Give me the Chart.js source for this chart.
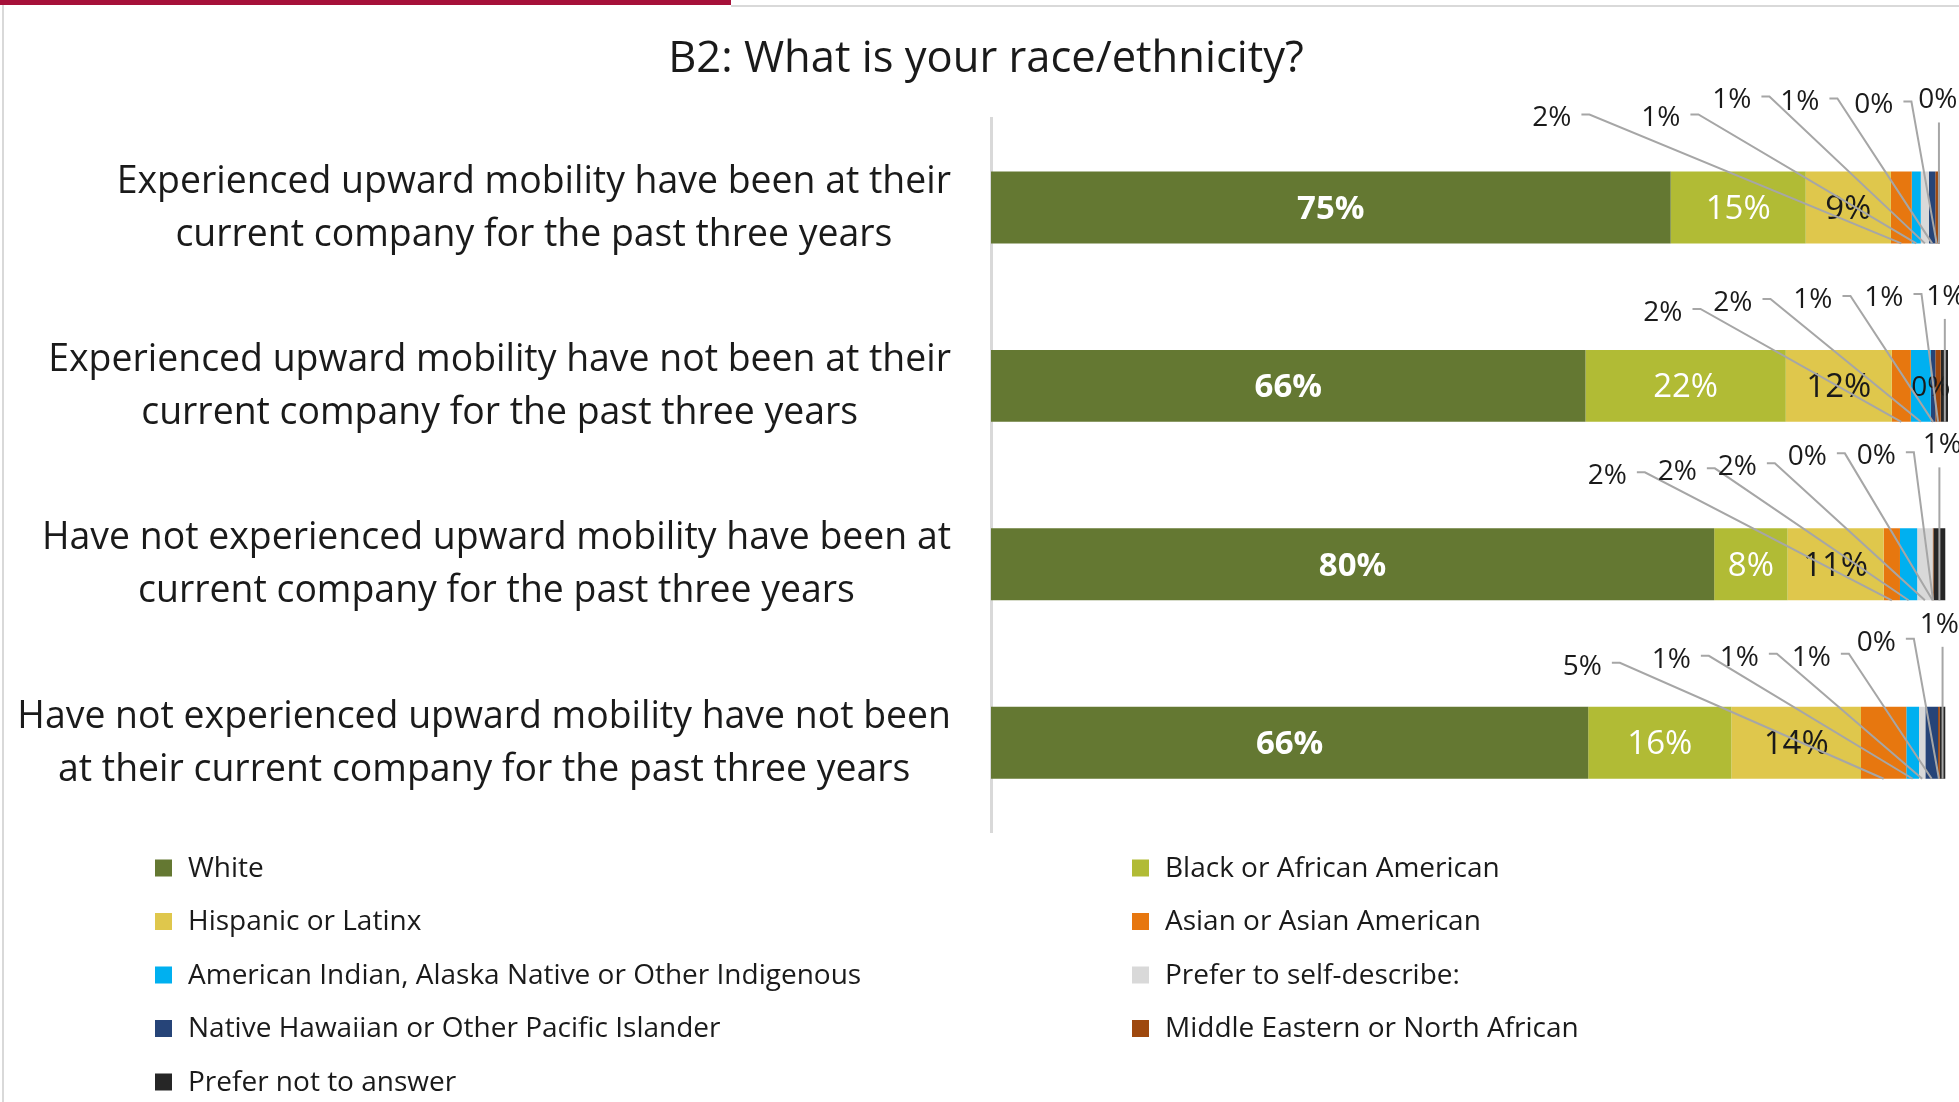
<!DOCTYPE html>
<html>
<head>
<meta charset="utf-8">
<script src="https://cdn.jsdelivr.net/npm/chart.js@4.4.0/dist/chart.umd.min.js"></script>
<style>
  html, body { margin: 0; padding: 0; background: #fff; }
  #wrap { width: 1959px; height: 1102px; position: relative; }
</style>
</head>
<body>
<div id="wrap"><canvas id="raceChart"></canvas></div>
<script>
// groups (y axis tick labels, two lines each)
const groups = [
    ['Experienced upward mobility have been at their', 'current company for the past three years'],
    ['Experienced upward mobility have not been at their', 'current company for the past three years'],
    ['Have not experienced upward mobility have been at', 'current company for the past three years'],
    ['Have not experienced upward mobility have not been', 'at their current company for the past three years']
];

const seriesNames = [
    'White', 'Black or African American', 'Hispanic or Latinx', 'Asian or Asian American',
    'American Indian, Alaska Native or Other Indigenous', 'Prefer to self-describe:',
    'Native Hawaiian or Other Pacific Islander', 'Middle Eastern or North African', 'Prefer not to answer'
];

// % of respondents per group
const white        = [75.0, 65.6, 79.8, 65.9];
const black        = [14.9, 22.1, 8.1, 15.8];
const hispanic     = [9.4, 11.7, 10.6, 14.3];
const asian        = [2.3, 2.1, 1.8, 5.0];
const amIndian     = [1.0, 2.2, 1.9, 1.4];
const selfDescribe = [0.9, 0.0, 1.7, 0.7];
const pacific      = [0.7, 0.5, 0.0, 1.4];
const mena         = [0.3, 0.6, 0.1, 0.2];
const noAnswer     = [0.2, 0.9, 1.3, 0.6];

const colors = ['#647832', '#b1bb35', '#dfc74c', '#e7770f', '#00b0f0', '#d9d9d9', '#264478', '#9e480e', '#262626'];

// where the callout labels of the small segments sit: [px left of bar end, px above bar top]; null = inside the bar
const calloutPlacement = [
    [[388, 53], [279, 53], [208, 71], [140, 69], [66, 66], [2, 71]],
    [[286, 37], [216, 47], null, [136, 50], [65, 52], [3, 53]],
    [[338, 52], [268, 56], [208, 61], [138, 71], [69, 72], [3, 83]],
    [[363, 40], [274, 47], [206, 49], [134, 49], [69, 64], [6, 82]]
];

const allSeries = [white, black, hispanic, asian, amIndian, selfDescribe, pacific, mena, noAnswer];
const textColor = '#1a1a1a';

const framePlugin = {
    id: 'frame',
    beforeDraw(chart) {
        const ctx = chart.ctx;
        ctx.save();
        ctx.fillStyle = '#fff';
        ctx.fillRect(0, 0, chart.width, chart.height);
        ctx.fillStyle = '#a6113a';
        ctx.fillRect(0, 0, 731, 5);
        ctx.fillStyle = '#d9d9d9';
        ctx.fillRect(731, 5, chart.width - 731, 2);
        ctx.fillRect(2, 5, 2, chart.height - 5);
        ctx.restore();
    }
};

// category labels: block right-aligned to the axis, lines centred inside the block
const groupLabelPlugin = {
    id: 'groupLabels',
    afterDraw(chart) {
        const ctx = chart.ctx;
        const yScale = chart.scales.y;
        const right = chart.chartArea.left - 40;
        const lineH = 53;
        ctx.save();
        ctx.font = '37.4px "Open Sans"';
        ctx.fillStyle = textColor;
        ctx.textAlign = 'center';
        ctx.textBaseline = 'middle';
        chart.data.labels.forEach((lines, i) => {
            const yc = yScale.getPixelForValue(i);
            const blockW = Math.max(...lines.map(l => ctx.measureText(l).width));
            const cx = right - blockW / 2;
            lines.forEach((l, n) => {
                ctx.fillText(l, cx, yc + (n - (lines.length - 1) / 2) * lineH + 1);
            });
        });
        ctx.restore();
    }
};

const labelPlugin = {
    id: 'segmentLabels',
    afterDatasetsDraw(chart) {
        const ctx = chart.ctx;
        ctx.save();
        ctx.textAlign = 'center';
        ctx.textBaseline = 'middle';
        chart.data.labels.forEach((lab, i) => {
            const bars = chart.data.datasets.map((d, j) => chart.getDatasetMeta(j).data[i]);
            const top = bars[0].y - bars[0].height / 2;
            const bottom = bars[0].y + bars[0].height / 2;
            const barEnd = bars[bars.length - 1].x;

            // big segments: label in the middle
            for (let j = 0; j < 3; j++) {
                const b = bars[j];
                const v = chart.data.datasets[j].data[i];
                ctx.font = (j === 0 ? 'bold ' : '') + '33px "Open Sans"';
                ctx.fillStyle = j === 2 ? textColor : '#fff';
                ctx.fillText(Math.round(v) + '%', (b.x + b.base) / 2, b.y + 2);
            }

            // small segments: callouts with leader lines
            for (let j = 3; j < bars.length; j++) {
                const b = bars[j];
                const v = chart.data.datasets[j].data[i];
                const txt = Math.round(v) + '%';
                const cx = (b.x + b.base) / 2;
                const place = calloutPlacement[i][j - 3];
                ctx.font = '28px "Open Sans"';
                if (!place) {
                    ctx.fillStyle = textColor;
                    ctx.fillText(txt, cx, b.y + 2);
                    continue;
                }
                const lx = barEnd - place[0];
                const ly = top - place[1];
                const w = ctx.measureText(txt).width;
                ctx.strokeStyle = '#a6a6a6';
                ctx.lineWidth = 2;
                ctx.beginPath();
                if (cx > lx + w / 2 + 14) {
                    const sx = lx + w / 2 + 10, sy = ly - 4;
                    ctx.moveTo(sx, sy);
                    ctx.lineTo(sx + 8, sy);
                    ctx.lineTo(cx, bottom);
                } else {
                    ctx.moveTo(cx, ly + 22);
                    ctx.lineTo(cx, bottom);
                }
                ctx.stroke();
                ctx.fillStyle = textColor;
                ctx.fillText(txt, lx, ly);
            }
        });
        ctx.restore();
    }
};

const legendPlugin = {
    id: 'gridLegend',
    afterDraw(chart) {
        const ctx = chart.ctx;
        ctx.save();
        ctx.textBaseline = 'middle';
        ctx.textAlign = 'left';
        ctx.font = '28px "Open Sans"';
        chart.data.datasets.forEach((ds, k) => {
            const col = k % 2, row = Math.floor(k / 2);
            const mx = col === 0 ? 155 : 1132;
            const my = 868 + row * 53.5;
            ctx.fillStyle = ds.backgroundColor;
            ctx.fillRect(mx, my - 8.5, 17, 17);
            ctx.fillStyle = textColor;
            ctx.fillText(ds.label, mx + 33, my + 1);
        });
        ctx.restore();
    }
};

const ctx = document.getElementById('raceChart').getContext('2d');
const raceChart = new Chart(ctx, {
    type: 'bar',
    data: {
        labels: groups,
        datasets: allSeries.map((vals, k) => ({
            label: seriesNames[k],
            data: vals,
            backgroundColor: colors[k],
            borderWidth: 0,
            barPercentage: 0.403,
            categoryPercentage: 1.0
        }))
    },
    options: {
        indexAxis: 'y',
        maintainAspectRatio: false,
        responsive: true,
        animation: false,
        layout: {
            padding: { left: 24, right: 11, top: 0, bottom: 270 }
        },
        scales: {
            x: {
                stacked: true,
                min: 0,
                max: 105.6,
                display: false
            },
            y: {
                stacked: true,
                grid: { display: false },
                border: { display: true, color: '#d9d9d9', width: 3 },
                ticks: { display: false },
                afterFit: function (scale) {
                    scale.width = 967;
                }
            }
        },
        plugins: {
            title: {
                display: true,
                text: 'B2: What is your race/ethnicity?',
                color: textColor,
                font: { family: 'Open Sans', size: 43.5, weight: 'normal' },
                padding: { top: 34, bottom: 32 }
            },
            legend: { display: false },
            tooltip: { enabled: false }
        }
    },
    plugins: [framePlugin, groupLabelPlugin, labelPlugin, legendPlugin]
});
</script>
</body>
</html>
